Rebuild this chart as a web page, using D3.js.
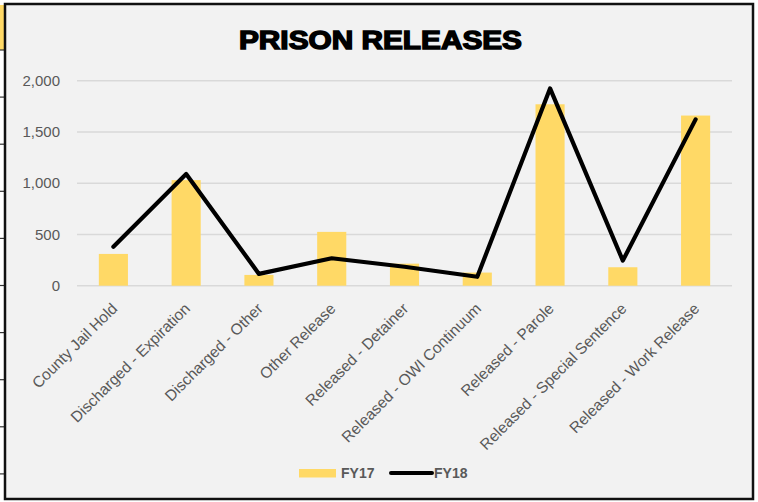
<!DOCTYPE html>
<html lang="en">
  <head>
    <meta charset="utf-8" />
    <title>Prison Releases</title>
    <script src="https://d3js.org/d3.v7.min.js"></script>
    <style>
      body {
        margin: 0;
        background: #fff;
        font-family: 'Liberation Sans', Arial, sans-serif;
      }
      svg {
        display: block;
      }
      .grid line {
        stroke: #d9d9d9;
        stroke-width: 1.5;
      }
      .tick-label {
        fill: #595959;
        font-size: 15px;
      }
      .cat-label {
        fill: #595959;
        font-size: 15.5px;
      }
    </style>
  </head>
  <body>
    <div id="chart"></div>
    <script>
      /* ----------------------------- DATA ----------------------------- */
      const categories = [
        'County Jail Hold',
        'Discharged - Expiration',
        'Discharged - Other',
        'Other Release',
        'Released - Detainer',
        'Released - OWI Continuum',
        'Released - Parole',
        'Released - Special Sentence',
        'Released - Work Release',
      ];
      const fy17 = [310, 1030, 105, 525, 215, 128, 1770, 180, 1660];
      const fy18 = [380, 1090, 115, 268, 185, 87, 1925, 245, 1623];
      const yTicks = [0, 500, 1000, 1500, 2000];
      const seriesNames = ['FY17', 'FY18'];

      /* ----------------------------- LAYOUT ---------------------------- */
      const W = 758,
        H = 502,
        m = { t: 80.7, r: 26, b: 216.3, l: 77 },
        w = W - m.l - m.r,
        h = H - m.t - m.b;

      const root = d3
        .select('#chart')
        .append('svg')
        .attr('width', W)
        .attr('height', H);

      // spreadsheet edge peeking out on the left
      root
        .append('rect')
        .attr('x', 0)
        .attr('y', 5)
        .attr('width', 4)
        .attr('height', 45)
        .attr('fill', '#ffd966');
      root
        .selectAll('line.row')
        .data(d3.range(10))
        .join('line')
        .attr('class', 'row')
        .attr('x1', 0)
        .attr('x2', 5)
        .attr('y1', (i) => 50 + i * 47.1)
        .attr('y2', (i) => 50 + i * 47.1)
        .attr('stroke', '#333')
        .attr('stroke-width', 1.2);

      // chart frame
      root
        .append('rect')
        .attr('x', 5)
        .attr('y', 4)
        .attr('width', 748)
        .attr('height', 495)
        .attr('fill', '#f2f2f2')
        .attr('stroke', '#111')
        .attr('stroke-width', 2.5);

      root
        .append('text')
        .attr('x', 380.5)
        .attr('y', 49)
        .attr('text-anchor', 'middle')
        .attr('font-family', "'Liberation Sans', Arial, sans-serif")
        .attr('font-weight', 900)
        .attr('font-size', 25)
        .attr('stroke', '#000')
        .attr('stroke-width', 1.4)
        .attr('textLength', 283)
        .attr('lengthAdjust', 'spacingAndGlyphs')
        .text('PRISON RELEASES');

      const svg = root
        .append('g')
        .attr('transform', `translate(${m.l},${m.t})`);

      /* ----------------------------- SCALES ---------------------------- */
      const x = d3
        .scaleBand()
        .domain(categories)
        .range([0, w])
        .paddingInner(0.6)
        .paddingOuter(0.3);
      const y = d3.scaleLinear().domain([0, 2000]).range([h, 0]);

      /* ------------------------------ GRID ----------------------------- */
      svg
        .append('g')
        .attr('class', 'grid')
        .selectAll('line')
        .data(yTicks)
        .join('line')
        .attr('x1', 0)
        .attr('x2', w)
        .attr('y1', (d) => y(d))
        .attr('y2', (d) => y(d));

      svg
        .append('g')
        .selectAll('text')
        .data(yTicks)
        .join('text')
        .attr('class', 'tick-label')
        .attr('x', -17)
        .attr('y', (d) => y(d))
        .attr('dy', '0.35em')
        .attr('text-anchor', 'end')
        .text((d) => d3.format(',')(d));

      /* ------------------------------ BARS ----------------------------- */
      svg
        .selectAll('rect.bar')
        .data(fy17)
        .join('rect')
        .attr('class', 'bar')
        .attr('x', (d, i) => x(categories[i]))
        .attr('width', x.bandwidth())
        .attr('y', (d) => y(d))
        .attr('height', (d) => h - y(d))
        .attr('fill', '#ffd966');

      /* ------------------------------ LINE ----------------------------- */
      const line = d3
        .line()
        .x((d, i) => x(categories[i]) + x.bandwidth() / 2)
        .y((d) => y(d));

      svg
        .append('path')
        .datum(fy18)
        .attr('fill', 'none')
        .attr('stroke', '#000')
        .attr('stroke-width', 4.2)
        .attr('stroke-linejoin', 'round')
        .attr('stroke-linecap', 'round')
        .attr('d', line);

      /* ---------------------------- X LABELS --------------------------- */
      svg
        .append('g')
        .selectAll('text')
        .data(categories)
        .join('text')
        .attr('class', 'cat-label')
        .attr('text-anchor', 'end')
        .attr(
          'transform',
          (d) =>
            `translate(${x(d) + x.bandwidth() / 2 + 1},${h + 20}) rotate(-45)`,
        )
        .attr('dy', '0.35em')
        .text((d) => d);

      /* ----------------------------- LEGEND ---------------------------- */
      const legend = root.append('g').attr('transform', 'translate(299,473)');
      legend
        .append('rect')
        .attr('x', 0)
        .attr('y', -4)
        .attr('width', 37)
        .attr('height', 8.5)
        .attr('fill', '#ffd966');
      legend
        .append('line')
        .attr('x1', 92)
        .attr('x2', 133)
        .attr('y1', 0)
        .attr('y2', 0)
        .attr('stroke', '#000')
        .attr('stroke-width', 4)
        .attr('stroke-linecap', 'round');
      legend
        .selectAll('text')
        .data(seriesNames)
        .join('text')
        .attr('x', (d, i) => (i === 0 ? 42 : 135))
        .attr('y', 0)
        .attr('dy', '0.35em')
        .attr('fill', '#595959')
        .attr('font-size', 14)
        .attr('font-weight', 'bold')
        .text((d) => d);
    </script>
  </body>
</html>
